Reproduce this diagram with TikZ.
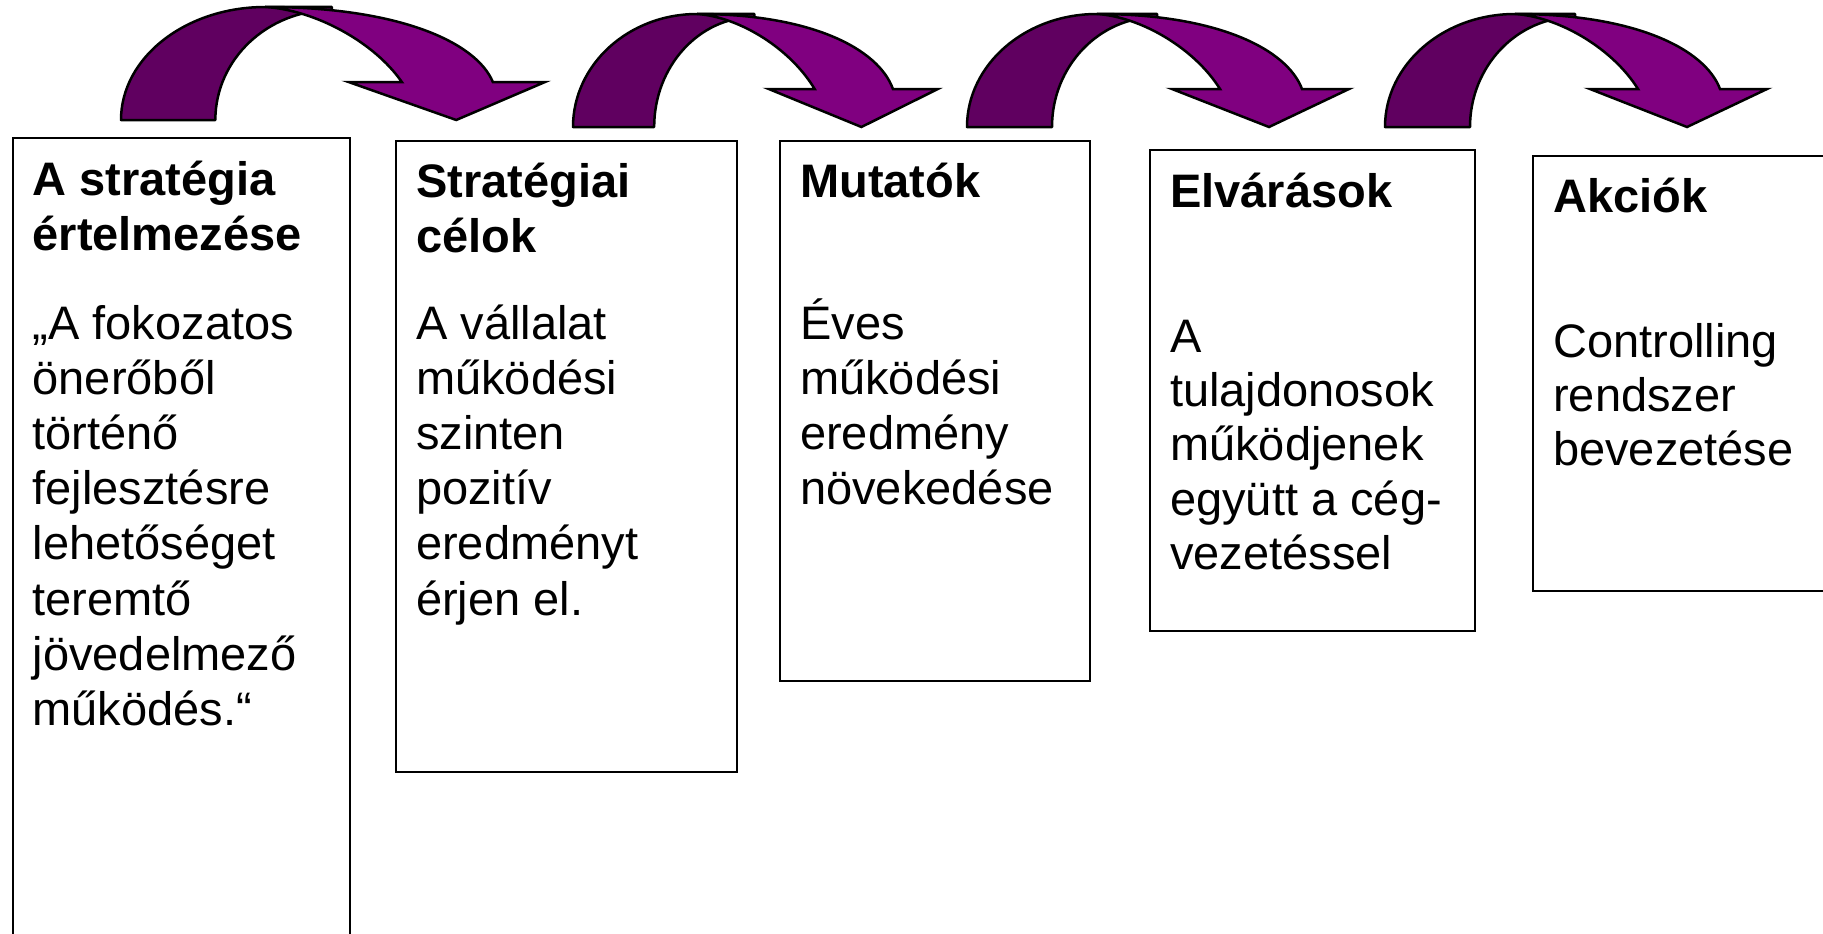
\documentclass[tikz,border=0pt]{standalone}
\usepackage{fontspec}
\setmainfont{Liberation Sans}
\definecolor{darkpurple}{RGB}{96,0,96}
\definecolor{lightpurple}{RGB}{128,0,128}
\tikzset{
  boxn/.style={draw=black, line width=2pt, rectangle, anchor=north west, inner sep=0pt},
  txt/.style={anchor=base west, inner sep=0pt, font=\fontsize{47}{55.2}\selectfont},
  ttl/.style={txt, font=\fontsize{47}{55.2}\selectfont\bfseries},
  backband/.style={fill=darkpurple, draw=black, line width=2.5pt, line join=round},
  frontband/.style={fill=lightpurple, draw=black, line width=2.5pt, line join=miter},
}
\newcommand\curvarrow[3]{%
  \begin{scope}[shift={(#1,#2)}, xscale=#3]
    \path[backband] (0,0) .. controls (0,-62.4) and (58.2,-113) .. (130,-113)
      -- (190,-113) -- (190,-110) .. controls (132,-110) and (85,-60.75) .. (85,0) -- cycle;
    \path[frontband] (130,-113) .. controls (250,-113) and (320,-78) .. (335,-38)
      -- (382,-38) -- (302,0) -- (205,-38) -- (253,-38)
      .. controls (228,-78) and (175,-110) .. (130,-113) -- cycle;
  \end{scope}}
\begin{document}
\begin{tikzpicture}[x=1pt,y=-1pt]
\useasboundingbox (0,0) rectangle (1823,934);
\clip (0,0) rectangle (1823,934);
\fill[white] (0,0) rectangle (1823,934);

% curved arrows
\curvarrow{121}{120}{1.11}
\curvarrow{573}{127}{0.955}
\curvarrow{967}{127}{1.0}
\curvarrow{1385}{127}{1.0}

% boxes
\node[boxn, minimum width=337pt, minimum height=830pt] (b1) at (12,137) {};
\node[boxn, minimum width=341pt, minimum height=631.5pt] (b2) at (395,139.5) {};
\node[boxn, minimum width=310pt, minimum height=540.5pt] (b3) at (779,139.5) {};
\node[boxn, minimum width=325pt, minimum height=481pt] (b4) at (1149,149) {};
\node[boxn, minimum width=320pt, minimum height=434.5pt] (b5) at (1532,155) {};

% titles
\node[ttl] (t1) at (32.5,195) {\vtop{\hbox{A stratégia}\hbox{értelmezése}}};
\node[ttl] (t2) at (416,197.5) {\vtop{\hbox{Stratégiai}\hbox{célok}}};
\node[ttl] (t3) at (800,197.5) {Mutatók};
\node[ttl] (t4) at (1170,207) {Elvárások};
\node[ttl] (t5) at (1553,212) {Akciók};

% bodies
\node[txt] (p1) at (32.5,339) {\vtop{\hbox{„A fokozatos}\hbox{önerőből}\hbox{történő}\hbox{fejlesztésre}\hbox{lehetőséget}\hbox{teremtő}\hbox{jövedelmező}\hbox{működés.“}}};
\node[txt] (p2) at (416,339) {\vtop{\hbox{A vállalat}\hbox{működési}\hbox{szinten}\hbox{pozitív}\hbox{eredményt}\hbox{érjen el.}}};
\node[txt] (p3) at (800,339) {\vtop{\hbox{Éves}\hbox{működési}\hbox{eredmény}\hbox{növekedése}}};
\node[txt] (p4) at (1170,352) {\vtop{\baselineskip=54.4pt\hbox{A}\hbox{tulajdonosok}\hbox{működjenek}\hbox{együtt a cég-}\hbox{vezetéssel}}};
\node[txt] (p5) at (1553,357) {\vtop{\baselineskip=54pt\hbox{Controlling}\hbox{rendszer}\hbox{bevezetése}}};
\end{tikzpicture}
\end{document}
